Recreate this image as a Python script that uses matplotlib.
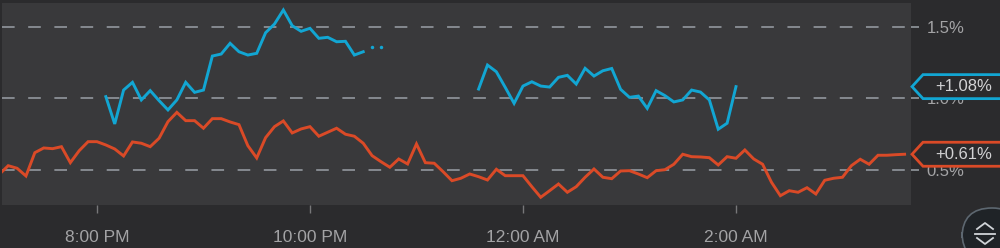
import numpy as np
import pandas as pd
import matplotlib
matplotlib.use("Agg")
import matplotlib.pyplot as plt
from matplotlib.patches import Polygon, FancyBboxPatch
from matplotlib.lines import Line2D

plt.rcParams['font.family'] = ['Liberation Sans', 'DejaVu Sans']

# 5-minute samples, 7:05 PM -> 3:35 AM
times = pd.date_range("2024-01-01 19:05", periods=103, freq="5min")

orange = [
    0.47, 0.530, 0.512, 0.458, 0.621, 0.654, 0.649, 0.663, 0.551, 0.635,
    0.698, 0.698, 0.675, 0.647, 0.598, 0.696, 0.687, 0.663, 0.722, 0.838,
    0.903, 0.845, 0.845, 0.792, 0.859, 0.859, 0.836, 0.817, 0.670, 0.584,
    0.726, 0.803, 0.843, 0.759, 0.787, 0.803, 0.736, 0.764, 0.792, 0.750,
    0.736, 0.687, 0.600, 0.558, 0.519, 0.577, 0.542, 0.682, 0.551, 0.547,
    0.488, 0.425, 0.442, 0.472, 0.453, 0.430, 0.505, 0.460, 0.460, 0.460,
    0.383, 0.309, 0.355, 0.402, 0.344, 0.383, 0.449, 0.507, 0.449, 0.439,
    0.493, 0.495, 0.472, 0.446, 0.495, 0.502, 0.540, 0.610, 0.593, 0.591,
    0.586, 0.535, 0.593, 0.582, 0.640, 0.577, 0.540, 0.414, 0.320, 0.355,
    0.344, 0.376, 0.332, 0.428, 0.442, 0.449, 0.530, 0.575, 0.540, 0.603,
    0.603, 0.607, 0.610,
]

nan = np.nan
blue = (
    [nan] * 12
    + [1.013, 0.822, 1.059, 1.113, 0.990, 1.055, 0.985, 0.920, 0.990, 1.113,
       1.043, 1.059, 1.297, 1.311, 1.386, 1.327, 1.304, 1.316, 1.460, 1.521,
       1.619, 1.509, 1.470, 1.491, 1.421, 1.428, 1.397, 1.400, 1.304, 1.327]
    + [nan] * 12
    + [1.066, 1.234, 1.187, 1.078, 0.966, 1.087, 1.117, 1.087, 1.080, 1.148,
       1.162, 1.101, 1.211, 1.157, 1.194, 1.210, 1.064, 1.008, 1.017, 0.931,
       1.055, 1.020, 0.976, 0.990, 1.059, 1.045, 0.990, 0.785, 0.827, 1.083]
    + [nan] * 19
)
# two lone blue samples right after the first run
blue_dot_idx = [42, 43]
blue_dot_vals = [1.362, 1.362]

y_ticks = [0.5, 1.0, 1.5]
y_labels = ["0.5%", "1.0%", "1.5%"]
x_ticks = pd.to_datetime(["2024-01-01 20:00", "2024-01-01 22:00",
                          "2024-01-02 00:00", "2024-01-02 02:00"])
x_labels = ["8:00 PM", "10:00 PM", "12:00 AM", "2:00 AM"]

BLUE = "#12a6d3"
ORANGE = "#da4a27"
OUTER = "#2b2b2d"
PLOT_BG = "#39393b"
GRID = "#8b9096"
TEXT = "#a3a3a5"

W, H = 1000, 248
fig = plt.figure(figsize=(10, 2.48), dpi=100, facecolor=OUTER)


def fx(x):
    return x / W


def fy(y):
    return 1 - y / H


ax = fig.add_axes([fx(2), fy(205), fx(911) - fx(2), (205 - 3) / H])
ax.set_facecolor(PLOT_BG)
for s in ax.spines.values():
    s.set_visible(False)

ax.plot(times, orange, color=ORANGE, lw=2.1, solid_joinstyle="miter", zorder=3)
ax.plot(times, blue, color=BLUE, lw=2.1, solid_joinstyle="miter", zorder=3)
ax.plot(times[blue_dot_idx], blue_dot_vals, "o", color=BLUE, ms=2.5, mew=0, zorder=3)

t0 = pd.Timestamp("2024-01-01 20:00")
ax.set_xlim(t0 - pd.Timedelta(minutes=53.5), t0 + pd.Timedelta(minutes=458.6))
ax.set_ylim(0.255, 1.668)

ax.set_yticks(y_ticks)
ax.set_yticklabels(y_labels)
ax.yaxis.tick_right()
ax.tick_params(axis="y", length=6, width=1.3, color=GRID, pad=5,
               labelcolor=TEXT, labelsize=12)
for v in y_ticks:
    ax.axhline(v, color=GRID, lw=1.3, ls=(0, (7, 7.5)), zorder=1)

ax.set_xticks(x_ticks)
ax.set_xticklabels(x_labels)
ax.tick_params(axis="x", direction="out", length=6, width=1, color="#777779",
               pad=12, labelcolor=TEXT, labelsize=12.5)

fig.canvas.draw()


def value_px(v):
    yd = ax.transData.transform((0, v))[1]
    return H - yd * H / fig.bbox.height


last_blue = [v for v in blue if not np.isnan(v)][-1]
for v, col in [(last_blue, BLUE), (orange[-1], ORANGE)]:
    yc = value_px(v)
    verts = [(912, yc), (923, yc - 12), (1003, yc - 12), (1003, yc + 12), (923, yc + 12)]
    poly = Polygon([(fx(x), fy(y)) for x, y in verts], closed=True,
                   transform=fig.transFigure, facecolor=OUTER, edgecolor=col,
                   lw=2.0, zorder=5)
    fig.patches.append(poly)
    fig.text(fx(964), fy(yc), "%+.2f%%" % v, color="#d2d2d4", fontsize=12,
             ha="center", va="center", zorder=6)

# scroll button bottom-right
btn = FancyBboxPatch((fx(962), fy(262)), fx(60), (262 - 208) / H,
                     boxstyle="round,pad=0,rounding_size=0.03",
                     mutation_aspect=4.0,
                     transform=fig.transFigure, facecolor="#1f2327",
                     edgecolor="#5d6770", lw=1.2, zorder=5)
fig.patches.append(btn)
ic = "#d0d4d8"
for pts in ([(977, 229), (985, 223), (993, 229)],
            [(977, 238), (985, 244), (993, 238)],
            [(975, 233.5), (995, 233.5)]):
    fig.lines.append(Line2D([fx(p[0]) for p in pts], [fy(p[1]) for p in pts],
                            transform=fig.transFigure, color=ic, lw=1.3, zorder=6))

fig.savefig("out.png", dpi=100, facecolor=OUTER)
